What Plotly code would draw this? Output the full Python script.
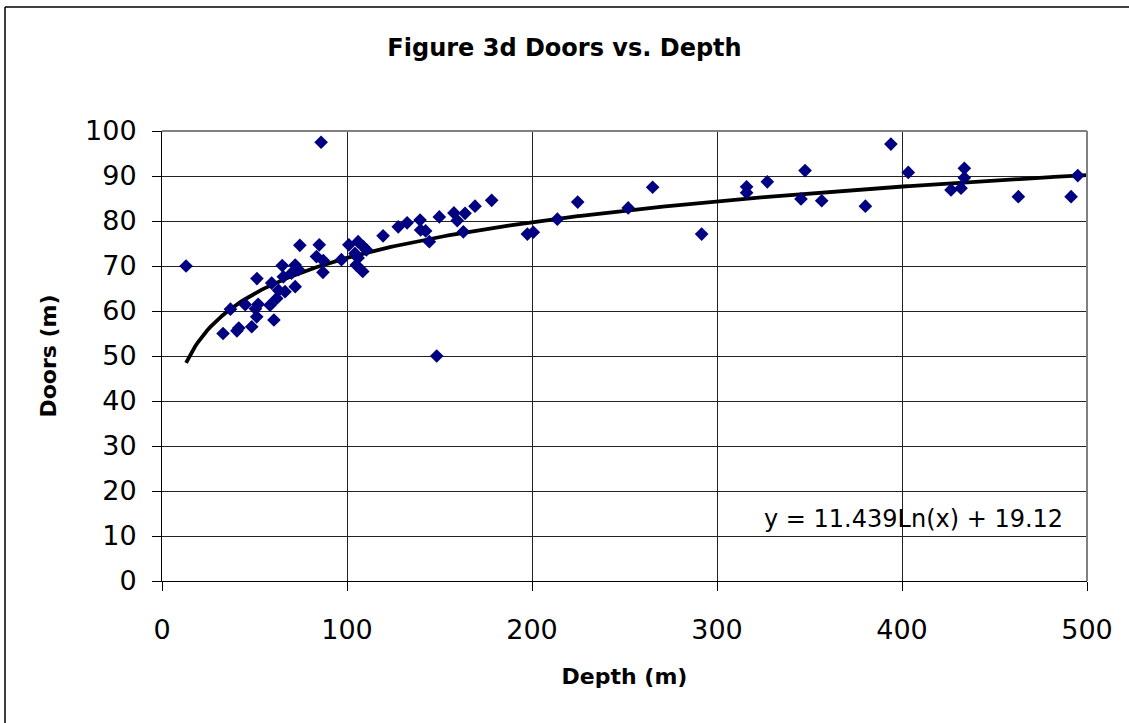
import numpy as np
import plotly.graph_objects as go

depth = [13, 33, 37, 40.5, 41.5, 45, 48.5, 50.5, 51.2, 52, 51.3, 58.4, 59.3, 60.5, 62, 63,
         65, 65.6, 66.5, 70, 72, 72, 73.7, 74.5, 83.5, 85, 86, 87, 87.2, 97, 101, 104.3,
         105, 106, 106, 108.5, 108.8, 110.5, 119.5, 127.7, 132.5, 139.5, 139.8, 142.5,
         144.5, 148.5, 149.9, 157.8, 159.6, 162.9, 163.8, 169.2, 178.2, 197.5, 200.7,
         213.7, 224.7, 252, 265.2, 291.7, 316, 316, 327.2, 345.4, 347.6, 356.6, 380.2,
         394, 403.4, 426.5, 431.9, 433.7, 433.7, 462.9, 491.4, 495]
doors = [70.0, 55.0, 60.4, 55.6, 56.2, 61.4, 56.5, 60.5, 58.7, 61.5, 67.2, 61.3, 66.2, 58.0,
         62.8, 64.6, 70.1, 67.6, 64.3, 68.4, 65.4, 70.2, 69.2, 74.6, 72.1, 74.7, 97.5, 68.6,
         71.2, 71.4, 74.7, 72.8, 70.2, 75.4, 71.8, 68.8, 74.3, 73.6, 76.7, 78.7, 79.6, 80.2,
         78.0, 77.8, 75.4, 50.0, 80.9, 81.8, 80.1, 77.6, 81.7, 83.3, 84.6, 77.1, 77.5, 80.4,
         84.2, 82.9, 87.5, 77.1, 87.6, 86.3, 88.7, 84.9, 91.2, 84.5, 83.3, 97.1, 90.8, 86.9,
         87.3, 91.7, 89.6, 85.4, 85.4, 90.1]

trend_a = 11.439
trend_b = 19.12
x_ticks = [0, 100, 200, 300, 400, 500]
y_ticks = list(range(0, 101, 10))

tx = np.linspace(min(depth), 500, 300)
ty = trend_a * np.log(tx) + trend_b

FONT = "DejaVu Sans"

fig = go.Figure()
fig.add_trace(go.Scatter(x=tx, y=ty, mode="lines",
                         line=dict(color="black", width=3.8), hoverinfo="skip"))
fig.add_trace(go.Scatter(x=depth, y=doors, mode="markers",
                         marker=dict(symbol="diamond", size=10.5, color="#000080",
                                     line=dict(width=0))))

fig.update_layout(
    width=1129, height=723,
    margin=dict(l=162, r=42, t=131, b=142),
    paper_bgcolor="white", plot_bgcolor="white",
    showlegend=False,
    title=dict(text="<b>Figure 3d Doors vs. Depth</b>", x=0.5, xanchor="center",
               y=1 - 48 / 723, yanchor="middle",
               font=dict(family=FONT, size=24, color="black")),
    xaxis=dict(range=[0, 500], tickvals=x_ticks, ticks="outside", ticklen=9,
               tickcolor="black", showgrid=True, gridcolor="#222222", gridwidth=1,
               showline=True, linecolor="black", linewidth=1, zeroline=False,
               ticklabelstandoff=16,
               tickfont=dict(family=FONT, size=27, color="black"),
               title=dict(text="<b>Depth (m)</b>", standoff=24,
                          font=dict(family=FONT, size=22, color="black"))),
    yaxis=dict(range=[0, 100], tickvals=y_ticks, ticks="outside", ticklen=9,
               tickcolor="black", showgrid=True, gridcolor="#222222", gridwidth=1,
               showline=True, linecolor="black", linewidth=1, zeroline=False,
               ticklabelstandoff=10,
               tickfont=dict(family=FONT, size=27, color="black"),
               title=dict(text="<b>Doors (m)</b>", standoff=22,
                          font=dict(family=FONT, size=22, color="black"))),
    annotations=[dict(x=406, y=13.8, xref="x", yref="y", text="y = 11.439Ln(x) + 19.12",
                      showarrow=False, font=dict(family=FONT, size=24, color="black"))],
    shapes=[
        dict(type="line", xref="paper", yref="paper", x0=0, x1=1, y0=1, y1=1,
             line=dict(color="#808080", width=2)),
        dict(type="line", xref="paper", yref="paper", x0=1, x1=1, y0=0, y1=1,
             line=dict(color="#808080", width=2)),
        dict(type="line", xref="paper", yref="paper", x0=(5 - 162) / 925, x1=2,
             y0=(581 - 7) / 450, y1=(581 - 7) / 450, line=dict(color="black", width=1.5)),
        dict(type="line", xref="paper", yref="paper", x0=(5 - 162) / 925, x1=(5 - 162) / 925,
             y0=-1, y1=(581 - 7) / 450, line=dict(color="black", width=1.5)),
    ],
)

fig.write_html("out.html")
